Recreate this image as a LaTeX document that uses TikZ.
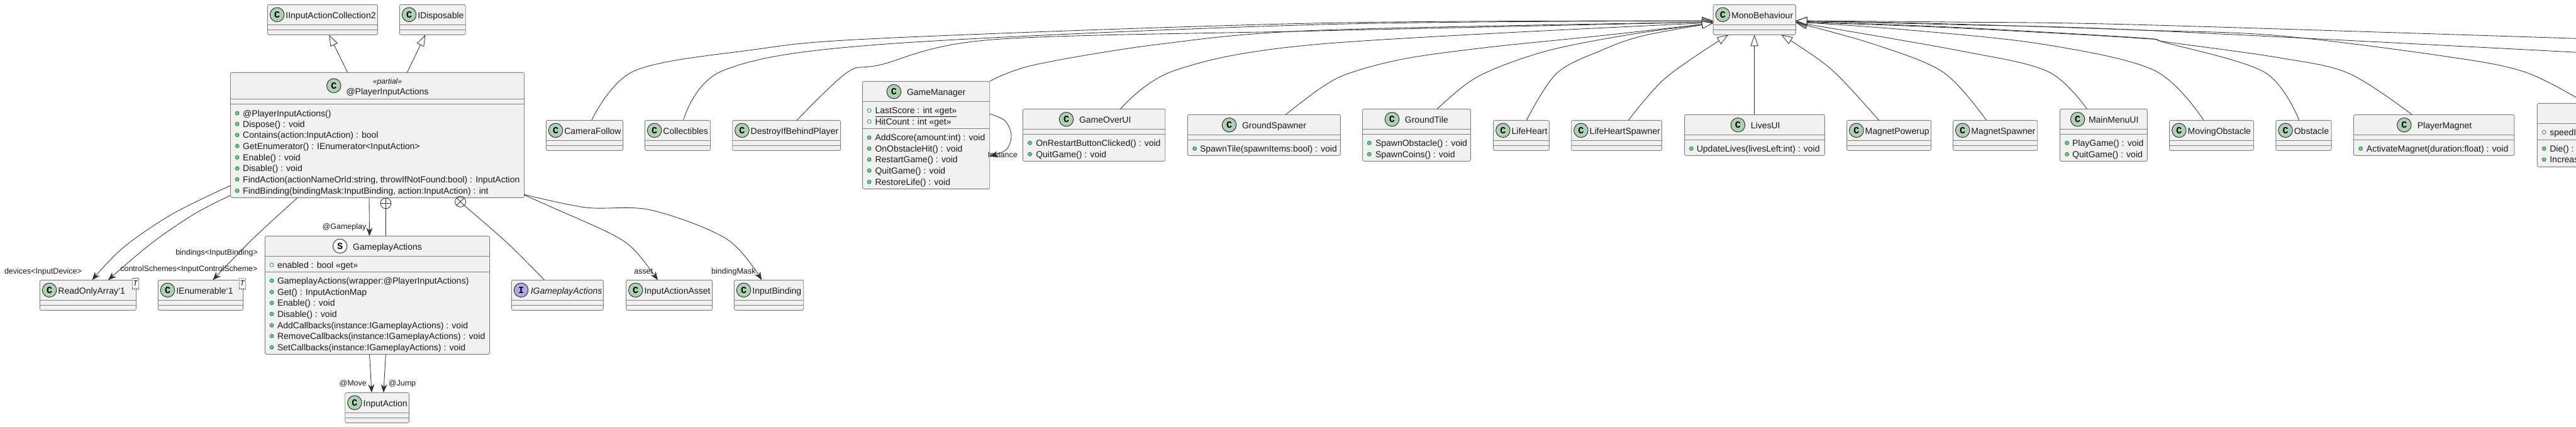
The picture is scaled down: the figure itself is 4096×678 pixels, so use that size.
\documentclass[tikz,border=0pt]{standalone}
\usepackage{fontspec}
\setmainfont{Liberation Sans}
\newfontfamily\spotfont{Liberation Mono}
\usetikzlibrary{arrows.meta,calc}
\definecolor{boxfill}{HTML}{F1F1F1}
\definecolor{boxline}{HTML}{808080}
\definecolor{linkc}{HTML}{333333}
\definecolor{spotC}{HTML}{ADD1B2}
\definecolor{spotI}{HTML}{B4A7E5}
\definecolor{memfill}{HTML}{84BE84}
\definecolor{memline}{HTML}{038048}
\tikzset{
  classbox/.style={draw=boxline,fill=boxfill,line width=0.9pt,rounded corners=2.5pt,anchor=north west,inner sep=0,outer sep=0},
  sepline/.style={draw=boxline,line width=0.9pt},
  spotnode/.style={circle,draw=black!85,line width=0.9pt,minimum size=22.5pt,inner sep=0,outer sep=0,font=\spotfont\bfseries\fontsize{15}{15}\selectfont},
  txt/.style={inner sep=0,outer sep=0,anchor=west,text height=10pt,text depth=0pt,text=black!90,font=\fontsize{14}{14}\selectfont},
  edgelbl/.style={inner sep=0,outer sep=0,anchor=center,text height=9pt,text depth=0pt,text=black!90,font=\fontsize{12.5}{12.5}\selectfont},
  bulletm/.style={circle,draw=memline,fill=memfill,line width=0.7pt,minimum size=6pt,inner sep=0,outer sep=0},
  bulletf/.style={circle,draw=memline,fill=white,line width=0.7pt,minimum size=6pt,inner sep=0,outer sep=0},
  link/.style={draw=linkc,line width=0.85pt},
  gen/.style={link,-{Triangle[open,fill=white,length=18pt,width=12.5pt,line width=0.85pt]}},
  assoc/.style={link,-{Stealth[length=13pt,width=10pt,inset=4pt]}},
  tbox/.style={draw=black,dashed,dash pattern=on 1.5pt off 1.5pt,fill=white,line width=0.6pt,inner sep=0,outer sep=0,minimum width=9.8pt,minimum height=17pt,font=\itshape\fontsize{12}{12}\selectfont},
  nestc/.style={circle,draw=linkc,line width=0.85pt,minimum size=17pt,inner sep=0,outer sep=0},
  spl/.style={smooth,tension=0.55},
}
\newcounter{tn}
\newcommand{\klass}[7]{% name l t r b y1 y2
  \pgfmathsetmacro\kw{#4-(#2)}\pgfmathsetmacro\kh{#5-(#3)}
  \node[classbox,minimum width=\kw pt,minimum height=\kh pt] (#1) at (#2,#3) {};
  \draw[sepline] (#1.west |- 0,#6) -- (#1.east |- 0,#6);
  \draw[sepline] (#1.west |- 0,#7) -- (#1.east |- 0,#7);
}
\newcommand{\spot}[5]{\node[spotnode,fill=#5] (#1) at (#2,#3) {#4};}
\newcommand{\ttl}[4][]{\stepcounter{tn}\node[txt,#1] (t\arabic{tn}) at (#2,#3) {#4};}
\newcommand{\mem}[4]{\stepcounter{tn}\node[bulletm] (b\arabic{tn}) at (#1,#3) {};\node[txt] (t\arabic{tn}) at (#2,#3) {#4};}
\newcommand{\fld}[4]{\stepcounter{tn}\node[bulletf] (b\arabic{tn}) at (#1,#3) {};\node[txt] (t\arabic{tn}) at (#2,#3) {#4};}
\newcommand{\kempty}[5]{% name l r t label
  \pgfmathsetmacro\ka{#4+32}\pgfmathsetmacro\kb{#4+40}\pgfmathsetmacro\kc{#4+48}
  \klass{#1}{#2}{#4}{#3}{\kc}{\ka}{\kb}
  \pgfmathsetmacro\sx{#2+15.2}\pgfmathsetmacro\sy{#4+16}\pgfmathsetmacro\tx{#2+29}\pgfmathsetmacro\ty{#4+17}
  \spot{#1s}{\sx}{\sy}{C}{spotC}
  \ttl{\tx}{\ty}{#5}
}
\begin{document}
\begin{tikzpicture}[x=1pt,y=-1pt]
\useasboundingbox (0,0) rectangle (4096,678);
\clip (0,0) rectangle (4096,678);
% classes
\kempty{coll}{425.4}{600.4}{7.3}{IInputActionCollection2}
\kempty{disp}{635.3}{740.2}{7.3}{IDisposable}
\kempty{mono}{2724.1}{2855.4}{7.3}{MonoBehaviour}
% PlayerInputActions
\klass{pia}{366.5}{115.3}{833.5}{314.3}{157.3}{165.3}
\spot{pias}{530.8}{136.3}{C}{spotC}
\ttl[anchor=center,font=\itshape\fontsize{12}{12}\selectfont]{616}{128.3}{«partial»}
\ttl[anchor=center]{616}{145.3}{@PlayerInputActions}
\mem{377.2}{386.2}{180}{@PlayerInputActions()}
\mem{377.2}{386.2}{197.3}{Dispose() : void}
\mem{377.2}{386.2}{214.7}{Contains(action:InputAction) : bool}
\mem{377.2}{386.2}{232.3}{GetEnumerator() : IEnumerator<InputAction>}
\mem{377.2}{386.2}{250.3}{Enable() : void}
\mem{377.2}{386.2}{267.7}{Disable() : void}
\mem{377.2}{386.2}{285.3}{FindAction(actionNameOrId:string, throwIfNotFound:bool) : InputAction}
\mem{377.2}{386.2}{303.3}{FindBinding(bindingMask:InputBinding, action:InputAction) : int}
% second level
\kempty{cam}{868.3}{990.6}{191.3}{CameraFollow}
\kempty{col}{1025.4}{1129.5}{191.3}{Collectibles}
\kempty{dest}{1164.7}{1336.6}{191.3}{DestroyIfBehindPlayer}
% GameManager
\klass{gm}{1371.4}{129.3}{1573.7}{300.3}{161.7}{204.3}
\spot{gms}{1421.4}{145.7}{C}{spotC}
\ttl{1442}{146.3}{GameManager}
\fld{1382.1}{1391.5}{175.7}{\underline{LastScore : int «get»}}
\fld{1382.1}{1391.5}{193.3}{HitCount : int «get»}
\mem{1382.1}{1391.5}{218.7}{AddScore(amount:int) : void}
\mem{1382.1}{1391.5}{236.3}{OnObstacleHit() : void}
\mem{1382.1}{1391.5}{253.7}{RestartGame() : void}
\mem{1382.1}{1391.5}{271.3}{QuitGame() : void}
\mem{1382.1}{1391.5}{289.3}{RestoreLife() : void}
% GameOverUI
\klass{go}{1626.3}{173.3}{1852.7}{256.3}{205.3}{213.3}
\spot{gos}{1695.5}{189.7}{C}{spotC}
\ttl{1716}{190.3}{GameOverUI}
\mem{1637.5}{1647.3}{227.3}{OnRestartButtonClicked() : void}
\mem{1637.5}{1647.3}{245.3}{QuitGame() : void}
% GroundSpawner
\klass{gs}{1888.4}{182.3}{2131.3}{247.3}{214.3}{222.3}
\spot{gss}{1954.5}{198.7}{C}{spotC}
\ttl{1975}{199.3}{GroundSpawner}
\mem{1899.6}{1908}{236.3}{SpawnTile(spawnItems:bool) : void}
% GroundTile
\klass{gt}{2166.5}{173.3}{2338.4}{256.3}{205.3}{213.3}
\spot{gts}{2213.4}{189.7}{C}{spotC}
\ttl{2233.9}{190.3}{GroundTile}
\mem{2177.2}{2187}{227.3}{SpawnObstacle() : void}
\mem{2177.2}{2187}{245.3}{SpawnCoins() : void}
\kempty{lh}{2374.6}{2463.4}{191.3}{LifeHeart}
\kempty{lhs}{2498.7}{2642.4}{191.3}{LifeHeartSpawner}
% LivesUI
\klass{lui}{2678.6}{182.3}{2901.3}{247.3}{214.3}{222.3}
\spot{luis}{2763.4}{198.7}{C}{spotC}
\ttl{2783.9}{199.3}{LivesUI}
\mem{2689.3}{2697.8}{236.3}{UpdateLives(livesLeft:int) : void}
\kempty{mp}{2936.6}{3070.5}{191.3}{MagnetPowerup}
\kempty{ms}{3105.4}{3239.7}{191.3}{MagnetSpawner}
% MainMenuUI
\klass{mm}{3275.4}{173.3}{3414.3}{256.3}{205.3}{213.3}
\spot{mms}{3303.6}{189.7}{C}{spotC}
\ttl{3321}{190.3}{MainMenuUI}
\mem{3286.6}{3295.1}{227.3}{PlayGame() : void}
\mem{3286.6}{3295.1}{245.3}{QuitGame() : void}
\kempty{mov}{3449.6}{3583.5}{191.3}{MovingObstacle}
\kempty{obs}{3618.8}{3707.1}{191.3}{Obstacle}
% PlayerMagnet
\klass{pm}{3742.4}{182.3}{3997.8}{247.3}{214.3}{222.3}
\spot{pms}{3822.8}{198.7}{C}{spotC}
\ttl{3843.8}{199.3}{PlayerMagnet}
\mem{3753.6}{3762.9}{236.3}{ActivateMagnet(duration:float) : void}
% cropped class on the right edge
\klass{pl}{4034.4}{164.3}{4300}{265.3}{196.3}{222.3}
\fld{4045.2}{4054.3}{210.3}{speedIn}
\mem{4045.2}{4054.3}{236.3}{Die() : v}
\mem{4045.2}{4054.3}{253.7}{Increas}
% bottom row
\kempty{roa}{63.4}{216.5}{445.3}{ReadOnlyArray`1}
\kempty{ien}{251.3}{386.6}{445.3}{IEnumerable`1}
\node[tbox] (roat) at (215.2,450.8) {T};
\node[tbox] (ient) at (385.3,450.8) {T};
\klass{iga}{813.4}{445.3}{959.4}{493.3}{477.3}{485.3}
\spot{igas}{828.6}{461.3}{I}{spotI}
\ttl[font=\itshape\fontsize{14}{14}\selectfont]{843.8}{462.3}{IGameplayActions}
\kempty{iaa}{995.5}{1132.6}{445.3}{InputActionAsset}
\kempty{ib}{1167.4}{1277.7}{445.3}{InputBinding}
% GameplayActions
\klass{ga}{421.4}{375.3}{778.6}{563.3}{407.3}{432.3}
\spot{gas}{540.6}{391.3}{S}{white}
\ttl{561.2}{392.3}{GameplayActions}
\fld{432.1}{441}{421.3}{enabled : bool «get»}
\mem{432.1}{441}{446.3}{GameplayActions(wrapper:@PlayerInputActions)}
\mem{432.1}{441}{464.3}{Get() : InputActionMap}
\mem{432.1}{441}{481.7}{Enable() : void}
\mem{432.1}{441}{499.3}{Disable() : void}
\mem{432.1}{441}{517.3}{AddCallbacks(instance:IGameplayActions) : void}
\mem{432.1}{441}{534.3}{RemoveCallbacks(instance:IGameplayActions) : void}
\mem{432.1}{441}{552.3}{SetCallbacks(instance:IGameplayActions) : void}
\kempty{ia}{548.7}{650.4}{624.3}{InputAction}
% offscreen ends
\coordinate (offA) at (4150,63);
\coordinate (offB) at (4150,86);
% inheritance
\draw[gen] (552.7,0 |- pia.north) -- (523.2,0 |- coll.south);
\draw[gen] (647.3,0 |- pia.north) -- (676.3,0 |- disp.south);
\draw[gen] plot[spl] coordinates {(940.6,0 |- cam.north) (1008,113) (1191,80) (1400,61) (2100,36.7) (mono.west |- 0,33)};
\draw[gen] plot[spl] coordinates {(1086.6,0 |- col.north) (1150.9,111.7) (1400,70.7) (2100,39) (mono.west |- 0,33.5)};
\draw[gen] plot[spl] coordinates {(1267,0 |- dest.north) (1347.3,115) (1400,103) (1578.6,63) (2100,49) (mono.west |- 0,35)};
\draw[gen] plot[spl] coordinates {(gm.north east) (1645.5,103) (1846,70) (2100,48) (mono.west |- 0,35)};
\draw[gen] plot[spl] coordinates {(1781.7,0 |- go.north) (1868.8,111.7) (2100,70) (mono.west |- 0,36)};
\draw[gen] plot[spl] coordinates {(2044.2,0 |- gs.north) (2100,140) (2144.6,116.7) (2233.9,93.3) (2367.9,75) (2546.4,56.7) (mono.west |- 0,36.7)};
\draw[gen] plot[spl] coordinates {(2285.3,0 |- gt.north) (2350,121.7) (2457,81.7) (2591,55) (mono.west |- 0,36.7)};
\draw[gen] plot[spl] coordinates {(2427.2,0 |- lh.north) (2475,116.7) (2546.4,80) (2613.4,56.7) (mono.west |- 0,36.7)};
\draw[gen] plot[spl] coordinates {(2589.3,0 |- lhs.north) (2649,123.3) (2748.2,0 |- mono.south)};
\draw[gen] (2789.7,0 |- lui.north) -- (2789.7,0 |- mono.south);
\draw[gen] plot[spl] coordinates {(2987.5,0 |- mp.north) (2911.6,110) (2832.1,0 |- mono.south)};
\draw[gen] plot[spl] coordinates {(3158.5,0 |- ms.north) (3090,115) (2978.6,70) (mono.east |- 0,36)};
\draw[gen] plot[spl] coordinates {(3318.3,0 |- mm.north) (3255.4,113.3) (3112.5,80) (mono.east |- 0,35.5)};
\draw[gen] plot[spl] coordinates {(3504,0 |- mov.north) (3425,111.7) (3246,70) (3023,46.7) (mono.east |- 0,35)};
\draw[gen] plot[spl] coordinates {(3655.8,0 |- obs.north) (3600.9,115) (3444.6,68.3) (3400,60.7) (3100,44) (mono.east |- 0,35)};
\draw[gen] plot[spl] coordinates {(3835.3,0 |- pm.north) (3734.8,116.7) (3623.2,91.7) (3444.6,66.7) (3400,60) (3100,43) (mono.east |- 0,34)};
\draw[gen] plot[spl] coordinates {(4112,0 |- pl.north) (4016,115) (3891,90) (3623,56.7) (3400,47.7) (3100,38) (mono.east |- 0,33)};
\draw[gen] plot[spl] coordinates {(offA) (3400,39.3) (3100,35) (mono.east |- 0,33)};
\draw[gen] plot[spl] coordinates {(offB) (3400,47.7) (3100,39) (mono.east |- 0,33)};
% self association
\draw[assoc] plot[spl] coordinates {(gm.east |- 0,181) (1598,192) (1608,215) (1600,238) (gm.east |- 0,248.3)};
% associations
\draw[assoc] plot[spl] coordinates {(pia.west |- 0,295) (274.6,340) (196.4,393.3) (146.4,0 |- roa.north)};
\draw[assoc] plot[spl] coordinates {(pia.west |- 0,310.7) (309.4,340) (241,386.7) (171.9,0 |- roa.north)};
\draw[assoc] plot[spl] coordinates {(473.2,0 |- pia.south) (401.8,380) (338.4,0 |- ien.north)};
\draw[assoc] (587,0 |- pia.south) -- (587.5,0 |- ga.north);
\node[nestc] (plusc) at (613.4,323.3) {};
\draw[link] (plusc.north) -- (plusc.south) (plusc.west) -- (plusc.east);
\draw[link] (plusc.south) -- (613.4,0 |- ga.north);
\node[nestc] (crossc) at (732.1,320.7) {};
\draw[link] (crossc.45) -- (crossc.225) (crossc.135) -- (crossc.-45);
\draw[link] plot[spl] coordinates {(crossc.-45) (807,386.7) (865.6,0 |- iga.north)};
\draw[assoc] plot[spl] coordinates {(pia.east |- 0,310) (878.6,330) (967.9,370) (1008,396.7) (1046,0 |- iaa.north)};
\draw[assoc] plot[spl] coordinates {(pia.east |- 0,309.3) (932,330) (1034.8,334) (1155.4,380) (1211.2,0 |- ib.north)};
\draw[assoc] (587.5,0 |- ga.south) -- (591,0 |- ia.north);
\draw[assoc] (613.4,0 |- ga.south) -- (609.8,0 |- ia.north);
% link labels
\node[edgelbl] (lInst) at (1594.2,246) {Instance};
\node[edgelbl] (lDev) at (68.5,430.7) {devices<InputDevice>};
\node[edgelbl] (lCtrl) at (300.4,426.7) {controlSchemes<InputControlScheme>};
\node[edgelbl] (lBind) at (344.6,400.7) {bindings<InputBinding>};
\node[edgelbl] (lGame) at (547.5,360) {@Gameplay};
\node[edgelbl] (lAsset) at (1023.2,430.7) {asset};
\node[edgelbl] (lMask) at (1166.3,430.7) {bindingMask};
\node[edgelbl] (lMove) at (561.2,609) {@Move};
\node[edgelbl] (lJump) at (639.5,609) {@Jump};
\end{tikzpicture}
\end{document}
